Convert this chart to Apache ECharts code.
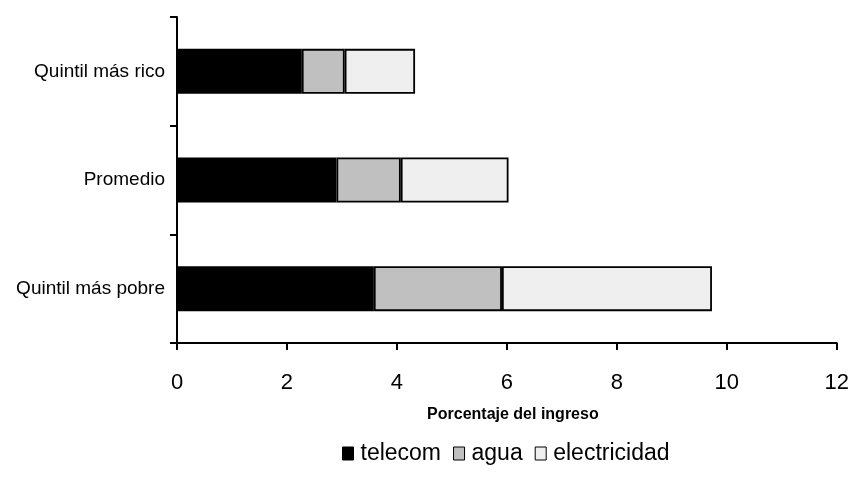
<!DOCTYPE html>
<html><head><meta charset="utf-8">
<script src="https://cdn.jsdelivr.net/npm/echarts@6/dist/echarts.min.js"></script>
<style>html,body{margin:0;padding:0;background:#fff}#c{width:852px;height:490px}</style>
</head><body><div id="c"></div>
<script>
const categories = ['Quintil más pobre', 'Promedio', 'Quintil más rico'];
const seriesNames = ['telecom', 'agua', 'electricidad'];
const telecom = [3.58, 2.90, 2.27];
const agua = [2.33, 1.17, 0.78];
const electricidad = [3.82, 1.96, 1.28];
const xTicks = [0, 2, 4, 6, 8, 10, 12];
const colors = ['#000000', '#c0c0c0', '#efefef'];
const values = [telecom, agua, electricidad];

const chart = echarts.init(document.getElementById('c'), null, {renderer: 'canvas'});
const font = 'Liberation Sans, Arial, sans-serif';
chart.setOption({
  animation: false,
  backgroundColor: '#fff',
  grid: {left: 177, right: 15, top: 17, bottom: 147, containLabel: false},
  legend: {
    data: seriesNames,
    top: 437,
    left: 337,
    itemWidth: 11,
    itemHeight: 13,
    itemGap: 12,
    icon: 'rect',
    textStyle: {fontFamily: font, fontSize: 23, color: '#000', padding: [0, 0, 0, 2]},
    itemStyle: {borderColor: '#000', borderWidth: 1}
  },
  xAxis: {
    type: 'value',
    min: xTicks[0], max: xTicks[xTicks.length - 1], interval: 2,
    name: 'Porcentaje del ingreso',
    nameLocation: 'middle',
    nameGap: 64,
    nameTextStyle: {fontFamily: font, fontSize: 16, fontWeight: 'bold', color: '#000', padding: [0, 0, 0, 12]},
    axisLine: {show: true, lineStyle: {color: '#000', width: 2}},
    axisTick: {show: true, length: 7, lineStyle: {color: '#000', width: 2}},
    axisLabel: {fontFamily: font, fontSize: 22, color: '#000', margin: 29},
    splitLine: {show: false}
  },
  yAxis: {
    type: 'category',
    data: categories,
    axisLine: {show: true, lineStyle: {color: '#000', width: 2}},
    axisTick: {show: true, length: 7, inside: false, lineStyle: {color: '#000', width: 2}},
    axisLabel: {fontFamily: font, fontSize: 19, color: '#000', margin: 12},
    splitLine: {show: false}
  },
  series: seriesNames.map((n, i) => ({
    name: n,
    type: 'bar',
    stack: 'total',
    barWidth: 45,
    data: values[i],
    itemStyle: {color: colors[i], borderColor: '#000', borderWidth: 1.8}
  }))
});
</script></body></html>
